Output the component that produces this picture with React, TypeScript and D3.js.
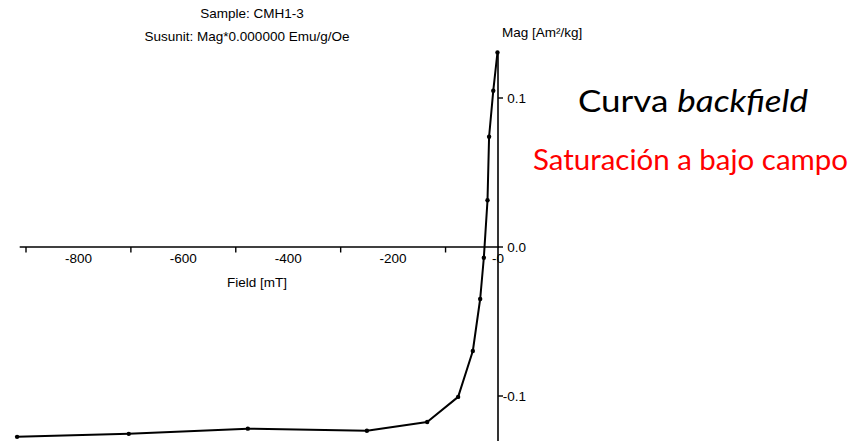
import React from "react";
import * as d3 from "d3";

// Backfield remanence curve, sample CMH1-3
const fieldMT: number[] = [-1, -9, -17, -20, -27, -34, -48, -76, -135, -250, -477, -704, -917];
const magAm2kg: number[] = [0.1306, 0.1049, 0.074, 0.0314, -0.0072, -0.0349, -0.0698, -0.1006, -0.1174, -0.1233, -0.1219, -0.1254, -0.1274];

const xLabelValues: number[] = [-800, -600, -400, -200, 0];
const xLabelTexts: string[] = ["-800", "-600", "-400", "-200", "-0"];
const xTickValues: number[] = [-900, -700, -500, -300, -100];
const yTickValues: number[] = [0.1, 0.0, -0.1];
const yTickTexts: string[] = ["0.1", "0.0", "-0.1"];

const W = 858;
const H = 441;
const FONT = "'Liberation Sans', Arial, sans-serif";
const FONT2 = "Lato, 'Open Sans', sans-serif";

export default function App() {
  const x = d3.scaleLinear().domain([-900, 0]).range([26, 498]);
  const y = d3.scaleLinear().domain([-0.1, 0.1]).range([396, 98]);

  const pts = fieldMT.map((f, i) => [f, magAm2kg[i]] as [number, number]);
  const line = d3
    .line<[number, number]>()
    .x((d) => x(d[0]))
    .y((d) => y(d[1]));

  const x0 = x(0);
  const y0 = y(0);
  const xStart = x(-912);
  const yTop = y(0.1306);

  return (
    <svg
      width={W}
      height={H}
      style={{ position: "absolute", left: 0, top: 0, background: "#fff" }}
    >
      <rect width={W} height={H} fill="#fff" />
      {/* header */}
      <text x={252} y={18} textAnchor="middle" fontFamily={FONT} fontSize={13.5} fill="#000">
        Sample: CMH1-3
      </text>
      <text x={247} y={41} textAnchor="middle" fontFamily={FONT} fontSize={13.5} fill="#000">
        Susunit: Mag*0.000000 Emu/g/Oe
      </text>

      {/* axes */}
      <line x1={xStart} x2={x0 + 1} y1={y0} y2={y0} stroke="#000" strokeWidth={1.6} />
      <line x1={x0} x2={x0} y1={yTop} y2={H} stroke="#000" strokeWidth={1.6} />

      {xTickValues.map((v) => (
        <line key={v} x1={x(v)} x2={x(v)} y1={y0} y2={y0 + 5.5} stroke="#000" strokeWidth={1.4} />
      ))}
      {xLabelValues.map((v, i) => (
        <text key={v} x={x(v)} y={263} textAnchor="middle" fontFamily={FONT} fontSize={13.5} fill="#000">
          {xLabelTexts[i]}
        </text>
      ))}
      <text x={257} y={287} textAnchor="middle" fontFamily={FONT} fontSize={13.5} fill="#000">
        Field [mT]
      </text>

      {yTickValues.map((v, i) => (
        <g key={v}>
          <line x1={x0} x2={x0 + 5} y1={y(v)} y2={y(v)} stroke="#000" strokeWidth={1.4} />
          <text x={526} y={y(v) + 5} textAnchor="end" fontFamily={FONT} fontSize={13.5} fill="#000">
            {yTickTexts[i]}
          </text>
        </g>
      ))}
      <text x={502} y={37} fontFamily={FONT} fontSize={13.5} fill="#000">
        Mag [Am²/kg]
      </text>

      {/* curve */}
      <path d={line(pts) || ""} fill="none" stroke="#000" strokeWidth={2} strokeLinejoin="round" />
      {pts.map((d, i) => (
        <circle key={i} cx={x(d[0])} cy={y(d[1])} r={2.2} fill="#000" />
      ))}

      {/* annotations */}
      <text x={578} y={112} fontFamily={FONT2} fontSize={30} fill="#000" textLength={230} lengthAdjust="spacingAndGlyphs">
        Curva <tspan fontStyle="italic">backfield</tspan>
      </text>
      <text x={533} y={170} fontFamily={FONT2} fontSize={28} fill="#ff0000" textLength={315} lengthAdjust="spacingAndGlyphs">
        Saturación a bajo campo
      </text>
    </svg>
  );
}
